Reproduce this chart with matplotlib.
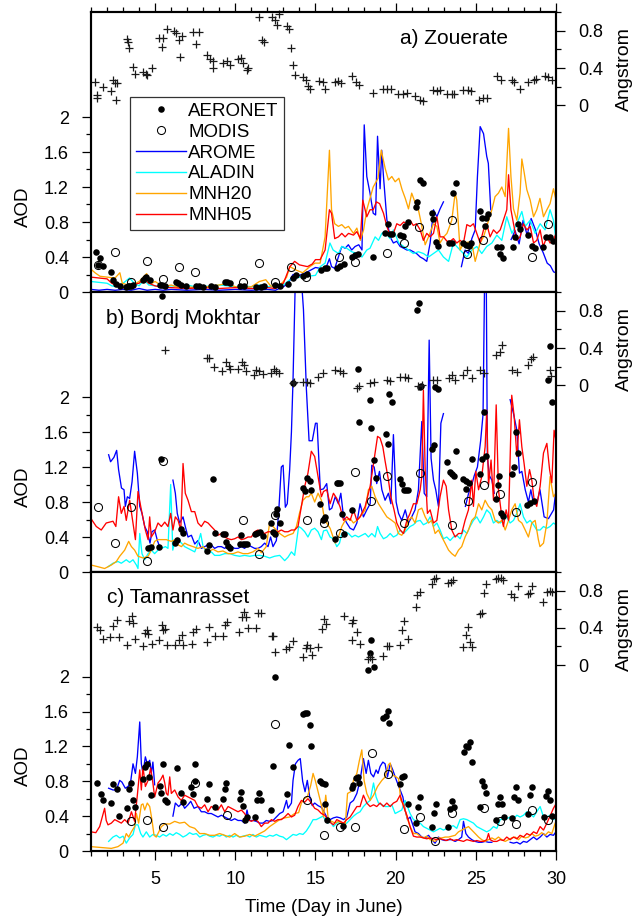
import matplotlib
matplotlib.use("Agg")
import matplotlib.pyplot as plt
from matplotlib.lines import Line2D
import numpy as np

nan = float("nan")

# ---------------- a) Zouerate ----------------
angstrom_a = [(1.25,0.25),(1.35,0.075),(1.4,0.11),(1.73,0.2),(2.25,0.15),(2.4,0.27),(2.5,0.24),(2.55,0.06),(2.65,0.24),
    (3.27,0.71),(3.3,0.68),(3.4,0.61),(3.64,0.41),(3.74,0.34),(4.27,0.36),(4.4,0.34),(4.5,0.32),(4.8,0.40),
    (5.24,0.72),(5.45,0.63),(5.5,0.72),(5.72,0.82),(6.2,0.80),(6.3,0.78),(6.5,0.70),(6.55,0.52),(6.65,0.74),
    (7.34,0.79),(7.55,0.66),(7.73,0.79),(8.26,0.54),(8.43,0.50),(8.58,0.40),(8.63,0.47),(9.22,0.45),(9.48,0.47),
    (9.64,0.43),(10.19,0.50),(10.34,0.51),(10.5,0.45),(10.7,0.38),(10.8,0.40),(11.5,0.95),(11.66,0.70),(11.8,0.68),
    (12.27,0.95),(12.47,0.91),(12.6,0.86),(12.73,0.98),(13.2,0.85),(13.37,0.82),(13.5,0.61),(13.62,0.43),(13.72,0.33),
    (14.25,0.30),(14.4,0.27),(14.55,0.21),(14.65,0.18),(15.2,0.26),(15.45,0.25),(15.6,0.18),(16.22,0.25),(16.4,0.26),
    (16.6,0.24),(17.26,0.31),(17.5,0.25),(17.7,0.22),(18.6,0.13),(19.23,0.18),(19.44,0.18),(19.7,0.18),(20.17,0.12),
    (20.45,0.12),(20.7,0.13),(21.2,0.10),(21.5,0.06),(21.7,0.05),(22.36,0.16),(22.55,0.15),(22.77,0.16),(23.2,0.12),
    (23.5,0.12),(23.65,0.12),(24.23,0.16),(24.52,0.16),(24.73,0.15),(25.22,0.06),(25.47,0.08),(25.68,0.08),(26.3,0.31),
    (26.6,0.27),(27.24,0.27),(27.35,0.25),(27.76,0.17),(28.28,0.25),(28.6,0.27),(28.75,0.28),(29.32,0.31),(29.52,0.30),
    (29.75,0.27)]
aeronet_a = [(1.33,0.46),(1.44,0.31),(1.54,0.385),(1.75,0.30),(2.23,0.23),(2.37,0.14),(2.58,0.09),(2.8,0.07),(3.2,0.06),
    (3.3,0.065),(3.4,0.07),(3.5,0.07),(3.6,0.08),(4.24,0.14),(4.35,0.16),(4.45,0.17),(4.65,0.14),(5.28,0.08),(5.45,0.08),
    (5.6,0.07),(6.32,0.11),(6.45,0.10),(6.6,0.08),(6.9,0.07),(7.57,0.07),(7.75,0.07),(7.98,0.06),(8.5,0.07),(8.75,0.06),
    (9.34,0.12),(9.5,0.11),(9.65,0.10),(10.27,0.07),(10.55,0.07),(11.3,0.06),(11.6,0.06),(11.8,0.07),(12.46,0.08),
    (12.77,0.07),(13.29,0.09),(13.6,0.16),(13.8,0.19),(14.2,0.18),(14.5,0.21),(15.37,0.25),(15.6,0.27),(15.7,0.28),
    (16.33,0.27),(16.54,0.30),(16.75,0.32),(17.26,0.40),(17.47,0.42),(17.68,0.44),(18.6,0.40),(19.34,0.67),(19.55,0.78),
    (19.65,0.66),(19.76,0.66),(20.28,0.65),(20.45,0.64),(20.6,0.75),(20.74,0.80),(21.27,0.97),(21.3,1.03),(21.5,1.28),
    (21.7,1.25),(22.25,0.90),(22.35,0.83),(22.5,0.57),(22.65,0.53),(23.3,0.56),(23.5,0.56),(23.6,1.13),(23.75,1.25),
    (24.23,0.56),(24.4,0.54),(24.6,0.53),(24.7,0.56),(25.27,0.93),(25.4,0.85),(25.6,0.75),(25.65,0.85),(25.75,0.89),
    (26.3,0.52),(26.5,0.44),(26.6,0.52),(26.7,0.385),(27.3,0.52),(27.45,0.63),(27.65,0.78),(27.75,0.72),(28.28,0.65),
    (28.5,0.53),(28.7,0.50),(29.2,0.52),(29.4,0.63),(29.6,0.63),(29.8,0.58)]
modis_a = [(1.46,0.31),(2.5,0.46),(3.5,0.11),(4.47,0.36),(5.47,0.15),(6.49,0.29),(7.5,0.23),(10.5,0.11),(11.5,0.33),
    (12.5,0.11),(13.48,0.29),(14.43,0.17),(16.47,0.40),(17.47,0.34),(19.49,0.45),(20.5,0.56),(21.48,0.74),(23.5,0.82),
    (24.47,0.43),(25.47,0.59),(28.5,0.40),(29.49,0.78)]
arome_a = [(1.0,0.03),(1.5,0.02),(2.0,0.03),(2.5,0.02),(3.0,0.03),(3.5,0.02),(4.0,0.04),(4.5,0.02),(5.0,0.03),(5.5,0.02),
    (6.0,0.03),(7.0,0.02),(8.0,0.03),(9.0,0.02),(10.0,0.03),(11.0,0.02),(12.0,0.03),(12.5,0.02),(13.0,0.06),(13.3,0.10),
    (13.6,0.20),(14.0,0.19),(14.5,0.23),(15.0,0.28),(15.3,0.27),(15.6,0.25),(15.87,0.38),(16.0,0.29),(16.2,0.27),
    (16.43,0.40),(16.64,0.52),(16.85,0.50),(17.05,0.54),(17.26,0.48),(17.47,0.52),(17.7,0.54),(17.9,0.48),(18.04,1.91),
    (18.2,1.32),(18.4,1.13),(18.6,0.90),(18.75,0.88),(18.87,1.78),(19.03,1.18),(19.13,1.62),(19.24,1.32),(19.45,0.83),
    (19.65,0.63),(19.86,0.56),(20.07,0.58),(20.28,0.52),(20.5,0.50),(20.7,0.48),(20.9,0.48),(21.1,0.46),(21.3,0.44),
    (21.53,0.40),(21.73,0.38),(21.94,0.35),(22.15,0.56),(22.36,0.94),(22.57,0.86),(22.77,0.95),(22.98,1.03),(23.05,nan),
    (24.1,0.29),(24.33,0.48),(24.54,0.44),(24.75,0.61),(24.96,0.71),(25.1,1.32),(25.27,1.89),(25.48,1.81),(25.68,1.55),
    (25.78,1.47),(25.93,0.94),(26.0,nan),(27.2,0.60),(27.45,0.70),(27.7,0.55),(27.95,0.82),(28.2,0.65),(28.45,0.84),
    (28.7,0.72),(28.95,0.55),(29.2,0.45),(29.45,0.33),(29.65,0.30),(29.85,0.23),(30.0,0.22)]
aladin_a = [(1.0,0.12),(1.5,0.11),(2.0,0.10),(2.3,0.07),(2.6,0.06),(3.0,0.10),(3.4,0.16),(3.7,0.10),(4.0,0.07),(4.3,0.14),
    (4.6,0.08),(5.0,0.07),(5.5,0.06),(6.0,0.07),(6.5,0.06),(7.0,0.08),(7.5,0.06),(8.0,0.07),(8.5,0.06),(9.0,0.08),
    (9.5,0.07),(10.0,0.06),(10.5,0.07),(11.0,0.06),(11.5,0.08),(12.0,0.06),(12.5,0.07),(13.0,0.08),(13.4,0.14),
    (14.0,0.17),(14.5,0.18),(15.0,0.19),(15.3,0.29),(15.6,0.33),(15.9,0.56),(16.1,0.48),(16.43,0.44),(16.64,0.52),
    (16.95,0.50),(17.26,0.46),(17.58,0.44),(17.9,0.40),(18.2,0.48),(18.4,0.50),(18.72,0.63),(18.93,0.59),(19.14,0.67),
    (19.34,0.69),(19.65,0.61),(19.86,0.71),(20.2,0.56),(20.5,0.52),(20.8,0.48),(21.1,0.44),(21.42,0.46),(21.73,0.44),
    (22.05,0.40),(22.36,0.44),(22.67,0.48),(22.98,0.40),(23.3,0.35),(23.6,0.56),(23.81,0.52),(24.12,0.46),(24.44,0.40),
    (24.75,0.48),(25.06,0.52),(25.37,0.44),(25.68,0.52),(26.0,0.56),(26.31,0.65),(26.62,0.59),(26.93,0.86),(27.25,0.67),
    (27.56,0.78),(27.87,0.92),(28.08,0.75),(28.39,0.82),(28.7,0.67),(29.01,0.78),(29.32,0.71),(29.63,0.94),(29.84,0.82),
    (30.0,0.60)]
mnh20_a = [(1.0,0.26),(1.25,0.22),(1.56,0.18),(2.0,0.17),(2.5,0.16),(2.8,0.22),(2.95,0.10),(3.3,0.08),(3.7,0.09),(4.0,0.12),
    (4.47,0.21),(4.8,0.10),(5.0,0.12),(5.5,0.06),(6.0,0.08),(6.5,0.05),(7.0,0.06),(7.5,0.05),(8.0,0.05),(8.5,0.07),
    (9.0,0.08),(9.5,0.10),(10.0,0.06),(10.5,0.05),(11.0,0.06),(11.5,0.12),(11.9,0.14),(12.2,0.07),(12.6,0.05),(13.0,0.12),
    (13.2,0.17),(13.4,0.29),(13.8,0.25),(14.2,0.22),(14.65,0.29),(14.97,0.33),(15.29,0.33),(15.6,0.63),(15.87,1.62),
    (16.0,0.94),(16.2,0.78),(16.43,0.75),(16.64,0.77),(16.85,0.73),(17.06,0.75),(17.37,0.67),(17.58,0.73),(17.8,0.59),
    (18.0,0.71),(18.2,0.94),(18.4,1.07),(18.6,1.20),(18.9,1.30),(19.1,1.62),(19.35,1.41),(19.55,1.28),(19.76,1.32),
    (19.97,1.26),(20.2,1.30),(20.4,1.17),(20.6,1.07),(20.8,0.95),(21.0,1.13),(21.2,1.03),(21.42,0.94),(21.6,0.78),
    (21.84,0.54),(22.05,0.63),(22.36,0.78),(22.57,0.75),(22.77,0.56),(23.0,0.63),(23.2,0.67),(23.5,0.82),(23.71,1.13),
    (23.81,1.05),(24.02,0.48),(24.23,0.56),(24.54,0.57),(24.75,0.56),(24.96,0.35),(25.27,0.56),(25.48,0.63),(25.8,0.82),
    (26.0,0.94),(26.2,1.09),(26.41,1.13),(26.62,1.20),(26.83,1.09),(27.04,1.87),(27.19,1.32),(27.35,0.95),(27.56,0.82),
    (27.76,1.13),(27.87,1.52),(28.02,1.36),(28.18,1.17),(28.39,1.05),(28.6,0.86),(28.8,0.94),(29.0,1.07),(29.22,0.86),
    (29.43,0.94),(29.63,1.01),(29.84,1.18),(30.0,1.05)]
mnh05_a = [(1.0,0.17),(1.5,0.16),(2.0,0.15),(2.3,0.10),(2.6,0.07),(3.0,0.05),(3.5,0.08),(4.0,0.10),(4.3,0.15),(4.6,0.10),
    (5.0,0.07),(5.5,0.05),(6.0,0.05),(7.0,0.04),(8.0,0.05),(9.0,0.04),(10.0,0.05),(11.0,0.04),(12.0,0.05),(12.5,0.04),
    (13.0,0.10),(13.4,0.29),(13.7,0.35),(14.0,0.31),(14.5,0.29),(14.8,0.32),(15.0,0.37),(15.29,0.37),(15.6,0.48),
    (15.87,0.94),(16.0,0.90),(16.2,0.61),(16.43,0.63),(16.64,0.67),(16.85,0.63),(17.06,0.67),(17.37,0.65),(17.58,0.69),
    (17.8,0.61),(17.95,1.05),(18.2,0.86),(18.4,0.94),(18.6,0.94),(18.8,1.03),(19.0,1.01),(19.24,0.90),(19.45,0.75),
    (19.65,0.65),(19.86,0.67),(20.07,0.78),(20.28,0.76),(20.5,0.80),(20.7,0.78),(20.9,0.82),(21.1,0.76),(21.3,0.78),
    (21.53,0.71),(21.73,0.59),(21.94,0.67),(22.15,0.63),(22.36,0.67),(22.57,0.86),(22.77,0.63),(22.98,0.63),(23.2,0.58),
    (23.4,0.58),(23.6,0.61),(23.81,0.56),(24.02,0.59),(24.23,0.56),(24.44,0.77),(24.65,0.75),(24.85,0.78),(25.06,0.67),
    (25.27,0.56),(25.48,0.71),(25.68,0.78),(25.89,0.63),(26.1,0.71),(26.31,0.67),(26.52,0.71),(26.72,0.82),(26.93,0.94),
    (27.04,1.34),(27.19,0.94),(27.35,0.78),(27.55,0.59),(27.76,0.63),(27.97,0.78),(28.18,0.71),(28.39,0.75),(28.6,0.56),
    (28.8,0.59),(29.01,0.71),(29.2,0.52),(29.43,0.63),(29.63,0.56),(29.84,0.59),(30.0,0.67)]

# ---------------- b) Bordj Mokhtar ----------------
angstrom_b = [(5.62,0.38),(8.22,0.29),(8.37,0.29),(8.7,0.20),(9.17,0.15),(9.42,0.25),(9.6,0.21),(9.65,0.18),(10.14,0.17),
    (10.4,0.25),(10.55,0.22),(10.66,0.15),(11.17,0.11),(11.3,0.16),(11.45,0.15),(11.7,0.12),(12.21,0.13),(12.42,0.17),
    (12.55,0.15),(12.7,0.13),(13.58,0.02),(13.67,0.04),(14.25,0.04),(14.45,0.04),(14.66,0.03),(15.18,0.09),(15.46,0.13),
    (16.23,0.16),(16.5,0.15),(16.7,0.13),(17.58,-0.03),(17.74,-0.01),(18.41,0.02),(18.62,0.04),(19.45,0.06),(19.66,0.05),
    (20.28,0.09),(20.6,0.09),(20.8,0.08),(21.42,-0.01),(21.63,0.0),(22.36,0.06),(22.57,0.06),(23.3,0.075),(23.5,0.11),
    (23.71,0.06),(24.23,0.11),(24.44,0.16),(24.75,0.075),(25.27,0.16),(25.48,0.13),(26.27,0.33),(26.52,0.36),(26.66,0.43),
    (27.24,0.16),(27.56,0.14),(28.28,0.22),(28.43,0.28),(28.55,0.30),(29.64,0.16),(29.68,0.10)]
aeronet_b = [(4.56,0.28),(4.72,0.29),(5.22,0.29),(5.35,1.29),(5.45,3.15),(6.26,0.33),(6.38,0.37),(6.6,0.49),(6.74,0.45),
    (8.26,0.24),(8.34,0.31),(8.61,1.06),(8.71,0.45),(9.23,0.43),(9.38,0.43),(9.44,0.34),(9.54,0.30),(9.65,0.27),
    (10.27,0.32),(10.38,0.42),(10.45,0.32),(10.6,0.32),(10.75,0.32),(11.21,0.43),(11.37,0.45),(11.52,0.46),(11.73,0.41),
    (12.2,0.56),(12.35,0.46),(12.5,0.43),(12.55,0.66),(12.62,0.72),(12.77,0.56),(13.6,2.16),(14.22,0.96),(14.36,0.93),
    (14.49,1.08),(14.64,1.04),(14.74,0.94),(15.26,0.78),(15.47,0.59),(15.55,0.61),(15.62,0.63),(16.23,0.38),(16.33,1.02),
    (16.43,1.02),(16.53,1.02),(16.64,0.66),(16.75,0.44),(17.26,0.71),(17.64,2.32),(17.74,1.71),(18.37,1.97),(18.47,1.65),
    (18.62,1.28),(18.78,1.08),(19.39,1.58),(19.51,1.46),(19.61,2.03),(19.76,1.94),(20.24,1.06),(20.38,1.01),(20.49,0.94),
    (20.65,0.94),(20.8,0.94),(21.32,2.99),(21.46,3.08),(21.53,2.12),(21.59,2.13),(22.25,1.41),(22.4,1.45),(22.46,2.11),
    (22.61,2.09),(23.23,1.26),(23.36,1.14),(23.5,1.12),(23.65,1.10),(23.75,1.38),(24.23,1.06),(24.38,1.04),(24.38,0.95),
    (24.58,1.02),(24.75,1.29),(25.27,1.12),(25.41,1.29),(25.48,1.83),(25.62,1.33),(26.25,0.83),(26.37,0.99),(26.47,1.10),
    (26.58,0.68),(26.72,0.64),(27.24,1.12),(27.39,1.20),(27.49,1.60),(27.62,1.36),(28.22,0.77),(28.4,0.79),(28.6,0.81),
    (29.49,2.20),(29.64,2.58),(29.74,1.94)]
modis_b = [(1.46,0.74),(2.5,0.33),(3.5,0.74),(4.47,0.13),(5.49,1.27),(10.5,0.60),(11.5,0.21),(12.48,0.65),(14.45,0.59),
    (15.5,0.56),(16.5,0.45),(17.47,1.14),(18.47,0.81),(19.49,1.10),(20.49,0.56),(21.49,1.13),(23.5,0.54),(24.5,0.81),
    (25.48,1.0),(26.52,0.89),(27.49,0.69),(28.49,1.03)]
arome_b = [(2.1,1.34),(2.22,1.26),(2.43,1.31),(2.6,1.39),(2.72,1.17),(2.9,0.96),(3.06,0.94),(3.14,0.75),(3.27,0.86),
    (3.41,0.84),(3.56,1.03),(3.72,1.38),(3.89,1.13),(4.04,0.75),(4.18,0.67),(4.35,0.52),(4.51,0.46),(4.68,0.33),(4.8,0.46),
    (4.97,0.48),(5.14,0.36),(5.28,0.29),(5.4,nan),(6.11,1.05),(6.26,0.90),(6.38,0.67),(6.53,0.56),(6.74,0.63),(6.88,0.52),
    (7.05,0.40),(7.26,0.42),(7.47,0.32),(7.67,0.36),(7.88,0.27),(8.09,0.29),(8.3,0.31),(8.5,0.31),(8.71,0.27),(8.92,0.29),
    (9.13,0.29),(9.34,0.27),(9.55,0.30),(9.75,0.29),(9.96,0.27),(10.17,0.27),(10.38,0.29),(10.58,0.27),(10.79,0.31),
    (11.0,0.29),(11.21,0.27),(11.41,0.27),(11.62,0.29),(11.83,0.33),(12.04,0.29),(12.2,0.40),(12.35,0.29),(12.56,0.36),
    (12.7,0.67),(12.87,1.20),(12.98,1.22),(13.12,0.74),(13.24,0.78),(13.39,1.17),(13.5,1.6),(13.6,2.2),(13.75,3.4),
    (14.1,3.4),(14.25,3.0),(14.43,2.1),(14.6,1.5),(14.8,1.5),(15.0,1.7),(15.1,1.7),(15.3,0.94),(15.5,0.95),(15.7,1.01),
    (15.87,0.71),(16.02,0.73),(16.23,0.86),(16.43,0.78),(16.58,0.90),(16.75,0.63),(16.95,0.56),(17.16,0.50),(17.37,0.48),
    (17.58,0.56),(17.78,0.78),(17.99,0.63),(18.2,0.71),(18.41,0.78),(18.51,1.22),(18.66,1.20),(18.82,1.01),(18.99,1.15),
    (19.14,0.94),(19.34,0.82),(19.55,0.90),(19.7,0.78),(19.86,1.57),(20.03,0.80),(20.18,0.67),(20.38,0.59),(20.6,0.71),
    (20.8,0.56),(21.0,0.63),(21.21,0.71),(21.42,0.94),(21.63,1.72),(21.78,0.90),(21.94,0.86),(22.09,2.65),(22.21,1.30),
    (22.36,1.05),(22.5,0.94),(22.67,0.75),(22.82,1.70),(22.98,1.81),(23.05,nan),(24.35,0.75),(24.55,0.90),(24.75,1.00),
    (24.9,1.10),(25.1,1.20),(25.3,1.50),(25.45,1.80),(25.55,3.4),(25.65,3.4),(25.72,1.3),(25.85,1.10),(26.0,1.05),
    (26.15,0.90),(26.25,nan),(27.14,1.97),(27.35,1.81),(27.56,1.62),(27.72,1.13),(27.87,1.15),(28.08,0.94),(28.28,0.80),
    (28.43,0.94),(28.6,0.78),(28.8,0.78),(29.0,0.94),(29.26,0.63),(29.53,0.61),(29.85,0.71),(30.0,0.94)]
aladin_b = [(2.06,0.06),(2.37,0.10),(2.68,0.12),(2.89,0.10),(3.2,0.14),(3.41,0.11),(3.62,0.14),(3.83,0.08),(3.93,0.04),
    (4.04,0.44),(4.18,0.21),(4.35,0.14),(4.56,0.21),(4.76,0.25),(4.97,0.21),(5.18,0.25),(5.39,0.27),(5.64,0.29),(5.8,0.27),
    (5.97,1.0),(6.1,0.25),(6.26,0.37),(6.43,0.37),(6.64,0.33),(6.84,0.29),(7.05,0.27),(7.26,0.25),(7.47,0.23),(7.67,0.33),
    (7.84,0.44),(7.99,0.29),(8.2,0.23),(8.5,0.23),(8.71,0.19),(9.02,0.19),(9.34,0.21),(9.65,0.21),(9.96,0.19),(10.27,0.18),
    (10.58,0.19),(10.9,0.18),(11.21,0.19),(11.52,0.19),(11.83,0.18),(12.14,0.16),(12.45,0.18),(12.77,0.19),(13.08,0.13),
    (13.29,0.17),(13.5,0.23),(13.7,0.19),(13.95,0.52),(14.12,0.50),(14.33,0.46),(14.53,0.40),(14.74,0.48),(14.95,0.50),
    (15.16,0.46),(15.37,0.37),(15.5,0.47),(15.7,0.48),(15.91,0.40),(16.12,0.38),(16.33,0.29),(16.5,0.33),(16.64,0.44),
    (16.85,0.46),(17.06,0.44),(17.27,0.40),(17.47,0.42),(17.68,0.40),(17.89,0.42),(18.1,0.44),(18.3,0.40),(18.51,0.44),
    (18.72,0.40),(18.87,0.52),(19.03,0.44),(19.24,0.38),(19.45,0.40),(19.66,0.44),(19.86,0.40),(20.07,0.42),(20.28,0.48),
    (20.49,0.44),(20.7,0.48),(20.9,0.52),(21.11,0.54),(21.32,0.58),(21.53,0.59),(21.73,0.54),(21.94,0.56),(22.15,0.63),
    (22.36,0.52),(22.57,0.56),(22.77,0.48),(22.98,0.38),(23.19,0.40),(23.4,0.36),(23.6,0.40),(23.81,0.42),(24.02,0.38),
    (24.23,0.48),(24.44,0.44),(24.64,0.52),(24.85,0.59),(25.06,0.63),(25.27,0.56),(25.48,0.63),(25.68,0.71),(25.89,0.67),
    (26.1,0.56),(26.31,0.59),(26.52,0.56),(26.72,0.59),(26.93,0.63),(27.14,0.56),(27.35,0.59),(27.56,0.67),(27.76,0.78),
    (27.97,0.63),(28.18,0.56),(28.39,0.59),(28.6,0.54),(28.8,0.48),(29.01,0.48),(29.22,0.52),(29.43,0.50),(29.63,0.52),
    (29.84,0.56),(30.0,0.54)]
mnh20_b = [(1.0,0.08),(1.44,0.06),(1.85,0.04),(2.27,0.08),(2.58,0.12),(2.79,0.18),(3.1,0.25),(3.35,0.35),(3.52,0.29),
    (3.72,0.25),(3.93,0.18),(4.25,0.16),(4.56,0.18),(4.76,0.25),(4.97,0.35),(5.18,0.37),(5.39,0.37),(5.7,0.37),(6.0,0.35),
    (6.26,0.37),(6.43,0.31),(6.64,0.29),(6.84,0.33),(7.05,0.31),(7.36,0.29),(7.67,0.27),(7.99,0.29),(8.3,0.23),(8.61,0.26),
    (8.92,0.23),(9.23,0.24),(9.55,0.21),(9.86,0.21),(10.17,0.23),(10.48,0.21),(10.79,0.21),(11.1,0.23),(11.41,0.27),
    (11.62,0.22),(11.93,0.29),(12.14,0.56),(12.35,0.52),(12.56,0.48),(12.77,0.44),(13.08,0.40),(13.29,0.42),(13.6,0.44),
    (13.81,0.52),(14.0,0.67),(14.22,0.82),(14.43,0.86),(14.58,0.86),(14.74,0.90),(14.95,0.80),(15.16,0.90),(15.37,0.82),
    (15.5,0.67),(15.7,0.56),(15.91,0.50),(16.23,0.33),(16.43,0.40),(16.64,0.52),(16.85,0.59),(17.16,0.61),(17.37,0.56),
    (17.58,0.59),(17.78,0.63),(18.1,0.71),(18.3,0.94),(18.51,0.98),(18.72,0.86),(18.93,0.78),(19.24,0.69),(19.45,0.63),
    (19.76,0.59),(19.97,0.56),(20.17,0.44),(20.38,0.42),(20.59,0.48),(20.8,0.59),(21.0,0.63),(21.21,0.56),(21.42,0.71),
    (21.63,0.73),(21.84,0.63),(22.05,0.56),(22.25,0.59),(22.46,0.44),(22.67,0.48),(22.88,0.40),(23.08,0.33),(23.3,0.25),
    (23.5,0.21),(23.71,0.18),(23.92,0.25),(24.12,0.29),(24.33,0.40),(24.54,0.48),(24.75,0.59),(24.96,0.63),(25.17,0.78),
    (25.37,0.71),(25.58,0.82),(25.79,0.75),(26.0,0.71),(26.2,0.59),(26.41,0.56),(26.62,0.59),(26.83,0.48),(27.04,0.59),
    (27.24,0.71),(27.45,0.78),(27.66,0.59),(27.87,0.56),(28.08,0.48),(28.28,0.40),(28.49,0.56),(28.7,0.59),(28.9,0.37),
    (29.0,0.29),(29.22,0.33),(29.43,0.56),(29.63,1.09),(29.84,0.86),(30.0,0.90)]
mnh05_b = [(1.0,0.61),(1.33,0.52),(1.64,0.48),(1.95,0.56),(2.37,0.58),(2.55,0.52),(2.72,0.86),(2.89,0.67),(3.06,0.75),
    (3.2,0.59),(3.41,0.82),(3.62,0.56),(3.77,0.37),(3.93,0.92),(4.1,0.75),(4.25,0.61),(4.39,0.48),(4.56,0.37),(4.66,0.63),
    (4.76,0.40),(4.97,0.46),(5.18,0.56),(5.39,0.52),(5.6,0.57),(5.8,0.52),(5.97,0.67),(6.11,0.48),(6.26,0.63),(6.43,0.59),
    (6.6,0.48),(6.74,1.24),(6.88,0.90),(7.05,0.82),(7.26,0.69),(7.47,0.69),(7.67,0.56),(7.88,0.52),(8.09,0.58),(8.3,0.56),
    (8.5,0.52),(8.71,0.48),(8.92,0.42),(9.13,0.44),(9.34,0.40),(9.55,0.38),(9.75,0.37),(9.96,0.38),(10.17,0.40),
    (10.38,0.37),(10.58,0.38),(10.79,0.40),(11.0,0.40),(11.2,0.46),(11.41,0.48),(11.62,0.46),(11.83,0.44),(12.04,0.46),
    (12.25,0.46),(12.45,0.44),(12.66,0.46),(12.87,0.48),(13.08,0.46),(13.29,0.46),(13.5,0.48),(13.7,0.48),(13.91,0.52),
    (14.12,0.75),(14.33,0.98),(14.53,1.13),(14.74,1.38),(14.95,1.32),(15.16,1.09),(15.37,0.86),(15.5,0.92),(15.7,0.94),
    (15.91,0.78),(16.12,0.90),(16.33,0.84),(16.54,0.74),(16.75,0.59),(16.95,0.63),(17.16,0.59),(17.37,0.71),(17.58,0.59),
    (17.78,0.63),(18.1,0.75),(18.41,0.98),(18.62,1.24),(18.87,1.55),(19.03,1.53),(19.2,1.43),(19.34,1.27),(19.55,1.05),
    (19.7,0.86),(19.9,0.71),(20.07,0.56),(20.28,0.48),(20.49,0.44),(20.7,0.59),(20.9,0.67),(21.11,0.78),(21.32,0.78),
    (21.53,0.94),(21.63,1.09),(21.73,2.08),(21.84,1.17),(21.98,0.67),(22.15,0.71),(22.36,0.56),(22.57,0.59),(22.77,0.86),
    (22.98,1.05),(23.15,0.98),(23.3,0.71),(23.5,0.48),(23.71,0.40),(23.92,0.44),(24.12,0.44),(24.33,0.59),(24.54,0.71),
    (24.75,1.05),(24.85,0.75),(25.0,1.15),(25.17,0.94),(25.37,1.09),(25.58,1.43),(25.68,1.85),(25.79,0.99),(25.95,1.28),
    (26.1,0.82),(26.27,1.91),(26.41,0.94),(26.62,0.63),(26.72,0.52),(26.89,0.71),(27.04,0.59),(27.24,2.02),(27.39,1.78),
    (27.56,1.32),(27.72,1.74),(27.87,1.43),(28.01,1.24),(28.18,0.98),(28.35,1.17),(28.49,1.05),(28.64,0.82),(28.8,0.75),
    (29.01,0.98),(29.22,1.36),(29.43,1.47),(29.6,1.17),(29.74,1.02),(29.88,1.62),(30.0,1.50)]

# ---------------- c) Tamanrasset ----------------
angstrom_c = [(1.35,0.41),(1.56,0.375),(1.77,0.275),(2.19,0.30),(2.4,0.42),(2.6,0.48),(2.77,0.30),(3.27,0.21),(3.4,0.475),
    (3.54,0.525),(3.64,0.45),(3.74,0.275),(4.26,0.20),(4.37,0.34),(4.47,0.375),(4.57,0.33),(4.78,0.23),(5.26,0.27),
    (5.4,0.43),(5.5,0.375),(5.6,0.39),(5.72,0.21),(6.24,0.21),(6.51,0.27),(6.65,0.32),(6.76,0.21),(7.28,0.23),(7.38,0.36),
    (7.53,0.39),(8.21,0.25),(8.38,0.41),(8.73,0.31),(9.25,0.31),(9.36,0.43),(9.5,0.46),(10.25,0.35),(10.39,0.52),
    (10.54,0.57),(10.66,0.52),(10.81,0.40),(11.29,0.40),(11.43,0.56),(11.58,0.56),(12.27,0.31),(12.37,0.31),(12.48,0.14),
    (13.19,0.17),(13.36,0.19),(13.61,0.26),(14.23,0.09),(14.4,0.18),(14.48,0.21),(14.65,0.18),(14.76,0.11),(15.18,0.19),
    (15.39,0.39),(15.5,0.50),(15.66,0.44),(16.75,0.525),(17.26,0.45),(17.37,0.48),(17.26,0.27),(17.62,0.36),(17.78,0.225),
    (18.26,0.065),(18.37,0.09),(18.51,0.06),(19.24,0.10),(19.45,0.20),(19.61,0.20),(20.24,0.21),(20.38,0.375),(20.49,0.475),
    (20.74,0.275),(21.28,0.625),(21.36,0.75),(21.49,0.78),(22.25,0.87),(22.4,0.92),(22.52,0.94),(23.29,0.88),(23.46,0.89),
    (23.6,0.91),(24.23,0.19),(24.38,0.32),(24.5,0.41),(24.65,0.25),(24.77,0.19),(25.23,0.55),(25.37,0.56),(25.48,0.775),
    (25.62,0.87),(26.25,0.92),(26.41,0.94),(26.56,0.94),(26.68,0.91),(27.18,0.76),(27.35,0.73),(27.62,0.85),(28.24,0.76),
    (28.39,0.775),(28.49,0.85),(29.22,0.68),(29.43,0.79),(29.6,0.80),(29.74,0.79)]
aeronet_c = [(1.37,0.78),(1.6,0.65),(1.75,0.59),(2.23,0.55),(2.37,0.77),(2.64,0.71),(2.75,0.40),(3.27,0.49),(3.35,0.71),
    (3.47,0.78),(3.62,0.59),(3.77,0.51),(4.24,0.83),(4.39,0.96),(4.51,1.00),(4.62,0.85),(4.76,0.64),(5.28,0.75),(5.39,0.67),
    (5.49,1.00),(5.64,0.59),(5.74,0.56),(6.36,0.95),(6.59,0.66),(6.74,0.56),(7.26,0.73),(7.36,0.65),(7.47,1.00),(7.51,0.80),
    (8.26,0.60),(8.36,0.77),(8.71,0.50),(9.23,0.60),(9.34,0.71),(9.44,0.78),(10.27,0.60),(10.38,0.68),(10.48,0.52),
    (10.58,0.35),(10.73,0.39),(11.25,0.39),(11.37,0.58),(11.48,0.67),(11.58,0.59),(12.2,0.47),(12.35,0.97),(12.48,1.99),
    (13.25,0.65),(13.35,1.22),(13.6,0.96),(14.22,1.57),(14.33,1.58),(14.49,1.58),(14.64,1.44),(14.74,1.21),(15.26,0.80),
    (15.43,0.78),(15.57,0.77),(15.62,0.54),(15.74,0.35),(16.7,0.29),(17.26,0.72),(17.37,0.76),(17.54,0.84),(17.64,0.85),
    (17.74,0.78),(18.26,2.08),(18.37,2.27),(18.47,2.42),(18.62,2.11),(19.24,1.53),(19.39,1.55),(19.51,1.61),(19.61,1.47),
    (20.24,0.77),(20.38,0.85),(20.49,0.86),(20.74,0.54),(21.28,0.32),(21.38,0.51),(21.53,0.62),(22.25,0.28),(22.4,0.44),
    (22.5,0.54),(23.25,0.28),(23.4,0.48),(23.5,0.57),(23.65,0.50),(24.27,1.14),(24.4,1.20),(24.54,1.19),(24.65,1.25),
    (24.75,1.02),(25.23,0.51),(25.37,0.80),(25.48,0.75),(25.62,0.66),(26.25,0.36),(26.37,0.54),(26.52,0.62),(26.62,0.54),
    (26.76,0.39),(27.24,0.38),(27.39,0.62),(27.51,0.73),(27.66,0.58),(28.28,0.42),(28.39,0.64),(28.49,0.73),(29.26,0.39),
    (29.36,0.63),(29.49,0.69),(29.63,0.58),(29.74,0.40)]
modis_c = [(3.47,0.34),(4.49,0.36),(5.49,0.28),(7.47,0.78),(9.5,0.41),(12.5,1.46),(14.49,0.58),(15.5,0.18),(16.5,0.28),
    (17.47,0.28),(18.51,1.12),(19.51,0.88),(20.49,0.25),(21.49,0.39),(22.46,0.11),(23.5,0.44),(25.48,0.49),(26.52,0.34),
    (27.51,0.31),(28.49,0.47),(29.49,0.36)]
arome_c = [(2.1,0.72),(2.37,0.70),(2.58,0.70),(2.79,0.81),(2.93,0.79),(3.14,0.72),(3.31,0.74),(3.47,0.79),(3.62,1.00),
    (3.77,0.89),(3.89,1.08),(4.04,1.48),(4.14,1.0),(4.24,0.89),(4.39,1.08),(4.51,1.0),(4.66,1.04),(4.76,0.89),(4.86,1.02),
    (4.97,0.76),(5.0,nan),(6.11,0.40),(6.26,0.55),(6.47,0.51),(6.68,0.55),(6.84,0.49),(7.05,0.53),(7.22,0.57),(7.43,0.49),
    (7.67,0.51),(7.88,0.45),(8.09,0.45),(8.3,0.43),(8.5,0.43),(8.71,0.41),(8.92,0.39),(9.13,0.41),(9.34,0.39),(9.55,0.37),
    (9.75,0.35),(9.96,0.37),(10.17,0.35),(10.38,0.35),(10.58,0.32),(10.73,0.47),(10.86,0.35),(11.1,0.35),(11.31,0.34),
    (11.52,0.32),(11.73,0.32),(11.93,0.35),(12.14,0.34),(12.35,0.35),(12.56,0.39),(12.77,0.43),(12.98,0.45),(13.19,0.58),
    (13.29,0.49),(13.5,0.55),(13.6,0.81),(13.75,1.0),(13.91,1.04),(14.05,1.06),(14.2,0.80),(14.35,0.68),(14.49,0.81),
    (14.64,0.62),(14.8,0.52),(14.95,0.55),(15.16,0.52),(15.37,0.50),(15.5,0.46),(15.7,0.39),(15.91,0.36),(16.12,0.38),
    (16.33,0.39),(16.54,0.38),(16.75,0.36),(16.95,0.39),(17.16,0.55),(17.37,0.58),(17.58,0.66),(17.78,0.81),(17.99,1.06),
    (18.16,0.89),(18.3,1.04),(18.45,0.89),(18.62,0.85),(18.78,0.93),(18.9,0.89),(19.03,0.97),(19.2,1.02),(19.34,1.0),
    (19.49,0.85),(19.66,1.0),(19.82,0.93),(19.97,0.85),(20.11,0.78),(20.28,0.70),(20.45,0.62),(20.59,0.47),(20.74,0.36),
    (20.9,0.39),(21.07,0.30),(21.21,0.22),(21.42,0.20),(21.63,0.16),(21.84,0.15),(22.05,0.18),(22.25,0.13),(22.46,0.09),
    (22.67,0.16),(22.88,0.13),(23.09,0.12),(23.3,0.13),(23.5,0.13),(23.71,0.11),(23.92,0.13),(24.12,0.16),(24.23,0.34),
    (24.38,0.20),(24.54,0.16),(24.75,0.13),(24.96,0.11),(25.17,0.10),(25.37,0.10),(25.58,0.11),(25.79,0.10),(26.0,0.10),
    (26.1,nan),(27.14,0.10),(27.35,0.09),(27.56,0.10),(27.76,0.08),(27.97,0.11),(28.18,0.10),(28.39,0.13),(28.6,0.16),
    (28.8,0.13),(29.01,0.16),(29.22,0.20),(29.43,0.16),(29.63,0.19),(29.84,0.18),(30.0,0.22)]
aladin_c = [(2.1,0.11),(2.37,0.16),(2.58,0.18),(2.79,0.15),(3.0,0.17),(3.2,0.09),(3.41,0.15),(3.62,0.19),(3.77,0.30),
    (3.93,0.30),(4.1,0.20),(4.24,0.16),(4.45,0.22),(4.66,0.16),(4.86,0.19),(5.07,0.18),(5.28,0.16),(5.49,0.19),(5.7,0.17),
    (5.91,0.20),(6.11,0.18),(6.32,0.21),(6.53,0.19),(6.74,0.16),(6.95,0.18),(7.15,0.21),(7.36,0.19),(7.57,0.20),(7.78,0.16),
    (7.99,0.18),(8.2,0.19),(8.4,0.17),(8.61,0.16),(8.82,0.18),(9.02,0.17),(9.23,0.19),(9.44,0.16),(9.65,0.18),(9.86,0.16),
    (10.06,0.18),(10.27,0.16),(10.48,0.17),(10.69,0.18),(10.9,0.16),(11.1,0.19),(11.31,0.16),(11.52,0.18),(11.73,0.17),
    (11.93,0.16),(12.14,0.18),(12.35,0.17),(12.56,0.19),(12.77,0.17),(12.98,0.16),(13.19,0.13),(13.39,0.16),(13.6,0.19),
    (13.81,0.18),(14.01,0.20),(14.22,0.19),(14.43,0.23),(14.64,0.29),(14.85,0.36),(15.05,0.36),(15.26,0.38),(15.47,0.40),
    (15.6,0.36),(15.75,0.32),(15.91,0.34),(16.12,0.28),(16.33,0.32),(16.54,0.34),(16.75,0.30),(16.95,0.32),(17.16,0.36),
    (17.37,0.40),(17.58,0.43),(17.78,0.45),(17.99,0.51),(18.2,0.55),(18.41,0.58),(18.62,0.78),(18.78,0.62),(18.93,0.55),
    (19.14,0.53),(19.35,0.51),(19.55,0.51),(19.76,0.53),(19.97,0.43),(20.18,0.45),(20.38,0.47),(20.59,0.58),(20.74,0.51),
    (20.9,0.43),(21.11,0.36),(21.32,0.34),(21.53,0.32),(21.73,0.28),(21.94,0.26),(22.15,0.24),(22.36,0.22),(22.57,0.24),
    (22.77,0.26),(22.98,0.24),(23.19,0.26),(23.4,0.28),(23.6,0.29),(23.81,0.26),(24.02,0.36),(24.23,0.37),(24.44,0.36),
    (24.64,0.34),(24.85,0.32),(25.06,0.28),(25.27,0.26),(25.48,0.24),(25.68,0.22),(25.89,0.24),(26.1,0.28),(26.31,0.26),
    (26.52,0.36),(26.72,0.37),(26.93,0.37),(27.14,0.39),(27.35,0.37),(27.56,0.41),(27.76,0.39),(27.97,0.41),(28.18,0.45),
    (28.39,0.43),(28.6,0.39),(28.8,0.45),(29.01,0.51),(29.22,0.39),(29.43,0.39),(29.63,0.41),(29.84,0.36),(30.0,0.38)]
mnh20_c = [(1.0,0.05),(1.62,0.04),(2.27,0.03),(2.68,0.05),(3.0,0.09),(3.2,0.20),(3.35,0.16),(3.52,0.22),(3.72,0.28),
    (3.83,0.43),(3.97,0.32),(4.14,0.53),(4.24,0.54),(4.35,0.47),(4.51,0.55),(4.66,0.51),(4.8,0.36),(4.93,0.18),(5.07,0.16),
    (5.39,0.28),(5.6,0.31),(5.91,0.31),(6.22,0.34),(6.53,0.32),(6.84,0.33),(7.15,0.28),(7.47,0.26),(7.78,0.20),(8.09,0.20),
    (8.4,0.18),(8.71,0.18),(9.02,0.20),(9.34,0.18),(9.65,0.16),(9.96,0.20),(10.27,0.16),(10.58,0.17),(10.9,0.19),
    (11.21,0.17),(11.52,0.20),(11.83,0.23),(12.14,0.28),(12.46,0.32),(12.77,0.36),(13.08,0.38),(13.39,0.39),(13.7,0.43),
    (13.95,0.44),(14.12,0.55),(14.3,0.60),(14.49,0.62),(14.7,0.75),(14.85,0.89),(15.0,0.80),(15.2,0.65),(15.39,0.51),
    (15.5,0.39),(15.64,0.64),(15.8,0.36),(16.0,0.34),(16.23,0.32),(16.43,0.34),(16.64,0.32),(16.85,0.28),(17.0,0.66),
    (17.2,0.68),(17.37,0.81),(17.58,0.89),(17.74,1.04),(17.89,1.16),(18.03,0.81),(18.2,0.66),(18.41,0.58),(18.62,0.64),
    (18.87,0.74),(19.14,0.81),(19.35,0.85),(19.55,0.99),(19.66,1.01),(19.82,0.87),(20.03,0.85),(20.18,0.83),(20.32,0.58),
    (20.49,0.54),(20.7,0.39),(20.9,0.28),(21.11,0.20),(21.32,0.20),(21.53,0.17),(21.73,0.15),(21.94,0.17),(22.15,0.13),
    (22.46,0.11),(22.67,0.15),(22.88,0.15),(23.09,0.16),(23.3,0.16),(23.5,0.17),(23.71,0.18),(23.92,0.22),(24.12,0.24),
    (24.33,0.26),(24.54,0.28),(24.75,0.24),(24.96,0.20),(25.17,0.16),(25.37,0.13),(25.58,0.11),(25.79,0.13),(26.0,0.15),
    (26.2,0.13),(26.41,0.16),(26.62,0.13),(26.83,0.11),(27.04,0.13),(27.24,0.15),(27.45,0.16),(27.66,0.13),(27.87,0.17),
    (28.08,0.15),(28.28,0.16),(28.49,0.20),(28.7,0.17),(28.9,0.18),(29.11,0.21),(29.32,0.18),(29.53,0.22),(29.74,0.20),
    (29.95,0.32)]
mnh05_c = [(1.0,0.22),(1.3,0.21),(1.54,0.28),(1.85,0.49),(1.95,0.35),(2.06,0.30),(2.27,0.32),(2.48,0.36),(2.68,0.34),
    (2.89,0.32),(3.1,0.36),(3.31,0.32),(3.52,0.45),(3.72,0.34),(3.89,0.64),(4.04,0.93),(4.14,0.70),(4.24,0.97),(4.39,0.74),
    (4.56,0.81),(4.72,0.95),(4.86,0.78),(4.97,0.62),(5.18,0.78),(5.35,0.82),(5.49,0.87),(5.6,0.78),(5.7,0.66),(5.8,0.64),
    (5.91,0.85),(6.01,0.66),(6.22,0.70),(6.43,0.62),(6.63,0.58),(6.84,0.64),(7.05,0.62),(7.26,0.60),(7.47,0.58),(7.67,0.51),
    (7.88,0.49),(8.09,0.53),(8.3,0.45),(8.5,0.51),(8.71,0.49),(8.92,0.47),(9.13,0.53),(9.34,0.45),(9.55,0.51),(9.75,0.49),
    (9.96,0.47),(10.17,0.45),(10.38,0.47),(10.58,0.43),(10.8,0.36),(11.0,0.34),(11.21,0.36),(11.41,0.34),(11.62,0.28),
    (11.83,0.32),(12.04,0.32),(12.25,0.36),(12.46,0.34),(12.66,0.36),(12.87,0.36),(13.08,0.39),(13.29,0.43),(13.5,0.39),
    (13.7,0.41),(13.91,0.51),(14.12,0.58),(14.33,0.56),(14.53,0.60),(14.74,0.55),(14.95,0.49),(15.16,0.47),(15.37,0.43),
    (15.58,0.41),(15.79,0.35),(15.91,0.33),(16.12,0.30),(16.33,0.36),(16.54,0.34),(16.75,0.32),(16.95,0.36),(17.16,0.39),
    (17.37,0.45),(17.58,0.51),(17.78,0.51),(17.99,0.64),(18.2,0.55),(18.41,0.51),(18.62,0.53),(18.82,0.51),(19.03,0.55),
    (19.24,0.51),(19.45,0.55),(19.66,0.51),(19.86,0.55),(20.07,0.57),(20.28,0.64),(20.49,0.51),(20.7,0.41),(20.9,0.28),
    (21.11,0.17),(21.32,0.16),(21.53,0.16),(21.73,0.15),(21.94,0.14),(22.15,0.15),(22.36,0.14),(22.57,0.13),(22.77,0.14),
    (22.98,0.13),(23.19,0.12),(23.4,0.14),(23.6,0.12),(23.81,0.13),(24.02,0.12),(24.23,0.11),(24.44,0.13),(24.64,0.12),
    (24.85,0.11),(25.06,0.12),(25.27,0.11),(25.48,0.11),(25.68,0.13),(25.79,0.20),(25.89,0.13),(26.1,0.11),(26.31,0.11),
    (26.52,0.13),(26.72,0.12),(26.93,0.16),(27.14,0.13),(27.35,0.16),(27.56,0.14),(27.76,0.18),(27.97,0.16),(28.18,0.20),
    (28.39,0.18),(28.6,0.22),(28.8,0.20),(29.01,0.28),(29.22,0.24),(29.43,0.32),(29.63,0.40),(29.84,0.49),(30.0,0.54)]

titles = ['a) Zouerate', 'b) Bordj Mokhtar', 'c) Tamanrasset']
model_names = ['AROME', 'ALADIN', 'MNH20', 'MNH05']
model_colors = ['#0000ff', '#00ffff', '#ffa500', '#ff0000']

panels = [
    (angstrom_a, aeronet_a, modis_a, [arome_a, aladin_a, mnh20_a, mnh05_a]),
    (angstrom_b, aeronet_b, modis_b, [arome_b, aladin_b, mnh20_b, mnh05_b]),
    (angstrom_c, aeronet_c, modis_c, [arome_c, aladin_c, mnh20_c, mnh05_c]),
]

plt.rcParams['font.family'] = ['Liberation Sans', 'DejaVu Sans']

W, H = 637, 922
fig = plt.figure(figsize=(W / 100, H / 100), dpi=100)

# axes boxes in pixels: (top, bottom)
boxes = [(12, 292), (292, 572), (572, 851)]
x0, x1 = 91, 556
title_pos = [(0.897, 0.904, 'right'), (0.032, 0.904, 'left'), (0.034, 0.907, 'left')]


def xy(pairs):
    a = np.array(pairs, dtype=float)
    return a[:, 0], a[:, 1]


for i, (ang, aer, mod, models) in enumerate(panels):
    top, bot = boxes[i]
    ax = fig.add_axes([x0 / W, (H - bot) / H, (x1 - x0) / W, (bot - top) / H])
    ax.set_xlim(1, 30)
    ax.set_ylim(0, 3.2)

    for data, c in zip(models, model_colors):
        d, v = xy(data)
        ax.plot(d, v, color=c, lw=0.95, zorder=2)
    d, v = xy(aer)
    ax.plot(d, v, 'o', color='k', ms=4.7, mew=0, zorder=4, clip_on=False)
    d, v = xy(mod)
    ax.plot(d, v, 'o', mfc='none', mec='k', mew=0.75, ms=5.8, zorder=3, clip_on=False)

    ax.set_yticks([0, 0.4, 0.8, 1.2, 1.6, 2.0])
    ax.set_yticklabels(['0', '0.4', '0.8', '1.2', '1.6', '2'])
    ax.set_yticks([0.2, 0.6, 1.0, 1.4, 1.8], minor=True)
    ax.set_xticks([5, 10, 15, 20, 25, 30])
    ax.set_xticks([d for d in range(1, 31) if d % 5], minor=True)
    ax.tick_params(which='both', direction='out', width=0.9, labelsize=13)
    ax.tick_params(which='major', length=6.5)
    ax.tick_params(which='minor', length=3.8)
    ax.tick_params(axis='y', pad=9.5)
    ax.tick_params(axis='x', pad=8)
    ax.tick_params(axis='x', which='both', bottom=(i == 2), labelbottom=(i == 2), top=(i == 0), labeltop=False)
    for s in ax.spines.values():
        s.set_linewidth(1.5)

    axr = ax.twinx()
    axr.set_ylim(-2, 1.0)
    d, v = xy(ang)
    axr.plot(d, v, '+', color='#1a1a1a', ms=5.8, mew=0.9, clip_on=False)
    axr.set_yticks([0, 0.4, 0.8])
    axr.set_yticklabels(['0', '0.4', '0.8'])
    axr.set_yticks([0.2, 0.6, 1.0], minor=True)
    axr.tick_params(which='both', direction='out', width=0.9, labelsize=13, pad=9.5)
    axr.tick_params(which='major', length=6.5)
    axr.tick_params(which='minor', length=3.8)
    for s in axr.spines.values():
        s.set_linewidth(1.5)

    tx, ty, ha = title_pos[i]
    ax.text(tx, ty, titles[i], transform=ax.transAxes, ha=ha, va='center', fontsize=15)
    ax.text(-0.146, 0.305, 'AOD', transform=ax.transAxes, rotation=90, ha='center', va='center', fontsize=13.5)
    ax.text(1.148, 0.795, 'Angstrom', transform=ax.transAxes, rotation=90, ha='center', va='center', fontsize=14)

    if i == 0:
        handles = [Line2D([], [], ls='none', marker='o', color='k', ms=4.7, mew=0),
                   Line2D([], [], ls='none', marker='o', mfc='none', mec='k', mew=0.75, ms=5.8)]
        handles += [Line2D([], [], color=c, lw=1.0) for c in model_colors]
        leg = ax.legend(handles, ['AERONET', 'MODIS'] + model_names, loc='upper left',
                        bbox_to_anchor=(0.084, 0.696), borderaxespad=0, fontsize=13.5,
                        handlelength=2.7, handletextpad=0.1, labelspacing=0.2, borderpad=0.3,
                        fancybox=False, framealpha=1, edgecolor='#333333')
        leg.get_frame().set_linewidth(0.9)
        leg.set_zorder(10)

fig.text((x0 + x1) / 2 / W, (H - 907.5) / H, 'Time (Day in June)', ha='center', va='center', fontsize=13.5)

fig.savefig('out.png', dpi=100)
